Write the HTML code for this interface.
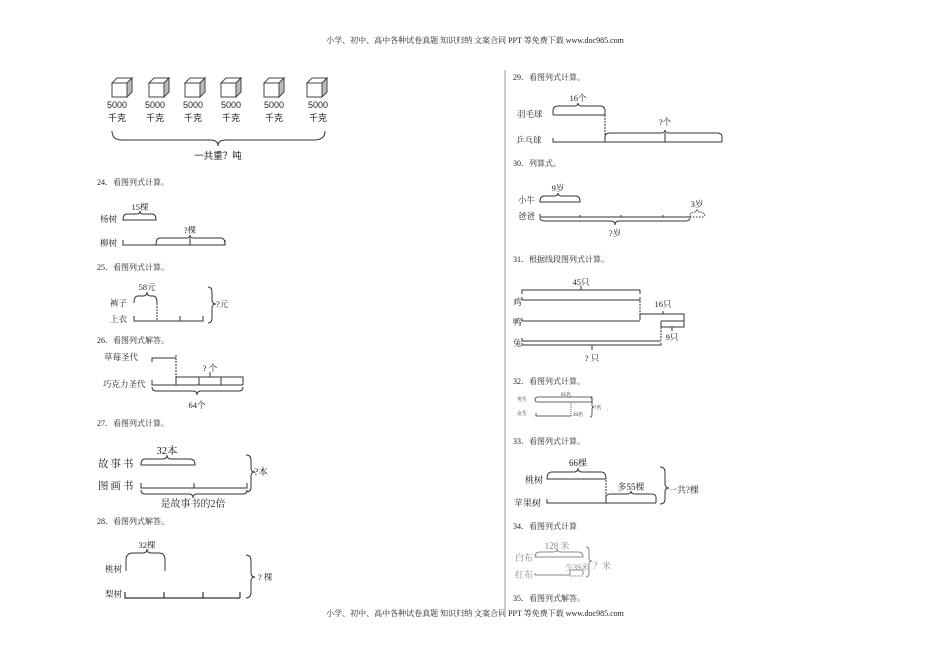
<!DOCTYPE html>
<html><head><meta charset="utf-8"><style>
html,body{margin:0;padding:0;background:#fff;}
svg{display:block;}
text{font-family:"Liberation Serif","Noto Serif CJK SC","Noto Sans CJK SC",serif;fill:#222;}
.s{font-family:"Liberation Sans","Noto Sans CJK SC",sans-serif;}
</style></head><body>
<svg width="950" height="672" viewBox="0 0 950 672" xmlns="http://www.w3.org/2000/svg" fill="none" stroke="#333" stroke-width="1">
<text x="475" y="43" font-size="8" text-anchor="middle" stroke="none" fill="#444">小学、初中、高中各种试卷真题  知识归纳  文案合同  PPT 等免费下载    www.doc985.com</text>
<text x="475" y="616" font-size="8" text-anchor="middle" stroke="none" fill="#444">小学、初中、高中各种试卷真题  知识归纳  文案合同  PPT 等免费下载    www.doc985.com</text>
<line x1="505" y1="70" x2="505" y2="612" stroke="#999"/>

<!-- cubes -->
<g stroke="#444">
<g transform="translate(112,78)"><rect x="0" y="5" width="15" height="14" fill="#fff"/><path d="M0 5 L5 0 H20 L15 5 Z" fill="#fff"/><path d="M15 5 L20 0 V14 L15 19 Z" fill="#bbb"/></g>
<g transform="translate(149,78)"><rect x="0" y="5" width="15" height="14" fill="#fff"/><path d="M0 5 L5 0 H20 L15 5 Z" fill="#fff"/><path d="M15 5 L20 0 V14 L15 19 Z" fill="#bbb"/></g>
<g transform="translate(185,78)"><rect x="0" y="5" width="15" height="14" fill="#fff"/><path d="M0 5 L5 0 H20 L15 5 Z" fill="#fff"/><path d="M15 5 L20 0 V14 L15 19 Z" fill="#bbb"/></g>
<g transform="translate(221,78)"><rect x="0" y="5" width="15" height="14" fill="#fff"/><path d="M0 5 L5 0 H20 L15 5 Z" fill="#fff"/><path d="M15 5 L20 0 V14 L15 19 Z" fill="#bbb"/></g>
<g transform="translate(264,78)"><rect x="0" y="5" width="15" height="14" fill="#fff"/><path d="M0 5 L5 0 H20 L15 5 Z" fill="#fff"/><path d="M15 5 L20 0 V14 L15 19 Z" fill="#bbb"/></g>
<g transform="translate(307,78)"><rect x="0" y="5" width="15" height="14" fill="#fff"/><path d="M0 5 L5 0 H20 L15 5 Z" fill="#fff"/><path d="M15 5 L20 0 V14 L15 19 Z" fill="#bbb"/></g>
</g>
<g stroke="none" font-size="9" class="s" text-anchor="middle">
<text class="s" x="117" y="108">5000</text><text class="s" x="117" y="121">千克</text>
<text class="s" x="155" y="108">5000</text><text class="s" x="155" y="121">千克</text>
<text class="s" x="193" y="108">5000</text><text class="s" x="193" y="121">千克</text>
<text class="s" x="231" y="108">5000</text><text class="s" x="231" y="121">千克</text>
<text class="s" x="274" y="108">5000</text><text class="s" x="274" y="121">千克</text>
<text class="s" x="318" y="108">5000</text><text class="s" x="318" y="121">千克</text>
<text class="s" x="218" y="159" font-size="9.5">一共重？吨</text>
</g>
<path d="M112 131 Q112 140 122 140 L210 140 Q218 140 218 146 Q218 140 226 140 L314 140 Q325 140 325 131"/>

<g stroke="none" font-size="8">
<text x="97" y="185">24．看图列式计算。</text>
<text x="97" y="270">25．看图列式计算。</text>
<text x="97" y="343">26．看图列式解答。</text>
<text x="97" y="426">27．看图列式计算。</text>
<text x="97" y="524">28．看图列式解答。</text>
<text x="513" y="80">29．看图列式计算。</text>
<text x="513" y="166">30．列算式。</text>
<text x="513" y="262">31．根据线段图列式计算。</text>
<text x="513" y="384">32．看图列式计算。</text>
<text x="513" y="444">33．看图列式计算。</text>
<text x="513" y="529">34．看图列式计算</text>
<text x="513" y="601">35．看图列式解答。</text>
</g>

<!-- 24 -->
<g stroke="none" font-size="8.5">
<text x="100" y="222">杨树</text><text x="100" y="246">柳树</text>
<text x="140" y="210" text-anchor="middle">15棵</text><text x="190" y="233" text-anchor="middle">?棵</text>
</g>
<path d="M123 220 Q123 214 127 214 L137 214 Q140 214 140 211 Q140 214 143 214 L152 214 Q156 214 156 220 Z"/>
<path d="M123 240 V245 H225 V240"/>
<path d="M156 245 Q156 238 160 238 L187 238 Q190 238 190 235 Q190 238 193 238 L221 238 Q225 238 225 245 M190 238 V245"/>

<!-- 25 -->
<g stroke="none" font-size="8.5">
<text x="110" y="306">裤子</text><text x="110" y="322">上衣</text>
<text x="147" y="290" text-anchor="middle">58元</text><text x="216" y="307">?元</text>
</g>
<path d="M134 303 Q134 296 138 296 L143 296 Q147 296 147 292 Q147 296 151 296 L153 296 Q157 296 157 303"/>
<path d="M134 316 V321 H203 V316 M180 316 V321"/>
<line x1="157" y1="303" x2="157" y2="321" stroke-dasharray="2,1"/>
<path d="M208 287 Q212 287 212 292 V300 Q212 304 216 304 Q212 304 212 308 V318 Q212 323 208 323"/>

<!-- 26 -->
<g stroke="none" font-size="8.5">
<text x="104" y="360">草莓圣代</text><text x="103" y="387">巧克力圣代</text>
<text x="210" y="371" text-anchor="middle">? 个</text><text x="197" y="408" text-anchor="middle">64个</text>
</g>
<path d="M152 362 V358 H176"/>
<line x1="176" y1="355" x2="176" y2="385" stroke-dasharray="2,1"/>
<path d="M152 380 V385 H243 M176 385 V377 H243 V385 M199 377 V385 M221 377 V385 M210 377 V372"/>
<path d="M152 387 Q152 391 156 391 L193 391 Q197 391 197 395 Q197 391 201 391 L239 391 Q243 391 243 387"/>

<!-- 27 -->
<g stroke="none" font-size="10.5">
<text x="98" y="467" letter-spacing="2">故事书</text><text x="98" y="489" letter-spacing="2">图画书</text>
<text x="167" y="454" text-anchor="middle">32本</text><text x="193" y="507" text-anchor="middle" font-size="10">是故事书的2倍</text>
<text x="254" y="475" font-size="9.5">?本</text>
</g>
<path d="M141 465 Q141 459 145 459 L163 459 Q167 459 167 455 Q167 459 171 459 L190 459 Q195 459 195 465 Z"/>
<path d="M141 483 V488 H247 V483 M194 483 V488"/>
<path d="M141 490 Q141 494 145 494 L189 494 Q193 494 193 498 Q193 494 197 494 L243 494 Q247 494 247 490"/>
<path d="M246 455 Q251 455 251 460 V468 Q251 472 255 472 Q251 472 251 476 V487 Q251 492 246 492"/>

<!-- 28 -->
<g stroke="none" font-size="8.5">
<text x="105" y="572">桃树</text><text x="105" y="597">梨树</text>
<text x="147" y="548" text-anchor="middle">32棵</text><text x="258" y="580">? 棵</text>
</g>
<path d="M126 571 V560 Q126 553 133 553 L143 553 Q147 553 147 549 Q147 553 151 553 L159 553 Q165 553 165 560 V571"/>
<path d="M125 592 V598 H240 M164 592 V598 M203 592 V598 M240 592 V598" stroke-width="1.2"/>
<path d="M246 555 Q251 555 251 561 V573 Q251 577 255 577 Q251 577 251 581 V592 Q251 598 246 598"/>

<!-- 29 -->
<g stroke="none" font-size="8.5">
<text x="517" y="117">羽毛球</text><text x="516" y="143">乒乓球</text>
<text x="578" y="101" text-anchor="middle">16个</text><text x="665" y="125" text-anchor="middle">?个</text>
</g>
<path d="M553 115 V111 Q553 106 558 106 L574 106 Q578 106 578 103 Q578 106 582 106 L600 106 Q605 106 605 111 V115 H553"/>
<line x1="605" y1="115" x2="605" y2="142" stroke-dasharray="2,1"/>
<path d="M553 138 V142 H722"/>
<path d="M605 142 V137 Q605 133 610 133 L661 133 Q665 133 665 130 Q665 133 669 133 L717 133 Q722 133 722 137 V142 M665 133 V142"/>

<!-- 30 -->
<g stroke="none" font-size="8.5">
<text x="518" y="203">小牛</text><text x="518" y="219">爸爸</text>
<text x="558" y="191" text-anchor="middle">9岁</text><text x="697" y="207" text-anchor="middle">3岁</text>
<text x="615" y="236" text-anchor="middle">?岁</text>
</g>
<path d="M540 202 Q540 196 544 196 L554 196 Q558 196 558 193 Q558 196 562 196 L576 196 Q580 196 580 202 Z"/>
<path d="M540 214 V217 H690 M580 215 V217 M621 215 V217 M663 215 V217"/>
<path d="M690 217 Q690 212 694 212 Q697 212 697 209 Q697 212 700 212 Q705 212 705 217" stroke-dasharray="1.5,1"/>
<line x1="690" y1="217" x2="705" y2="217" stroke-dasharray="1.5,1.5"/>
<path d="M540 218 Q540 221 545 221 L611 221 Q615 221 615 225 Q615 221 619 221 L685 221 Q690 221 690 218"/>

<!-- 31 -->
<g stroke="none" font-size="8.5">
<text x="513" y="305">鸡</text><text x="513" y="325">鸭</text><text x="513" y="346">兔</text>
<text x="581" y="285" text-anchor="middle">45只</text><text x="663" y="307" text-anchor="middle">16只</text>
<text x="672" y="340" text-anchor="middle">9只</text><text x="592" y="361" text-anchor="middle">? 只</text>
</g>
<path d="M522 294 V290 H640 V294 M581 290 V286"/>
<path d="M522 297 V300 H640 V297"/>
<line x1="640" y1="301" x2="640" y2="320" stroke-dasharray="2,1"/>
<path d="M522 318 V321 H640"/>
<path d="M640 320 V314 H684 V321 H661 M663 314 V311"/>
<path d="M661 321 V327 H684 V321 M672 327 V331"/>
<line x1="661" y1="321" x2="661" y2="340" stroke-dasharray="2,1"/>
<path d="M522 338 V341 H661"/>
<path d="M522 343 V345 H661 V343 M592 345 V350"/>

<!-- 32 -->
<g stroke="none" font-size="5" >
<text x="517" y="401">男生</text><text x="517" y="415">女生</text>
<text x="566" y="396" text-anchor="middle">65名</text><text x="573" y="416">20名</text>
<text x="594" y="409">?名</text><text x="607" y="410">.</text>
</g>
<path d="M535 400 Q535 397 538 397 H592 V402 H538 Q535 402 535 400" stroke-width="0.8"/>
<line x1="571" y1="403" x2="571" y2="416" stroke-dasharray="1,1" stroke-width="0.8"/>
<path d="M536 413 V416 H571" stroke-width="0.8"/>
<path d="M590 397 Q592 397 592 400 V405 Q592 407 594 407 Q592 407 592 409 V414 Q592 417 590 417" stroke-width="0.8"/>

<!-- 33 -->
<g stroke="none" font-size="9">
<text x="525" y="483">桃树</text><text x="514" y="506">苹果树</text>
<text x="578" y="466" text-anchor="middle">66棵</text><text x="631" y="490" text-anchor="middle">多55棵</text>
<text x="668" y="493">一共?棵</text>
</g>
<path d="M547 479 Q547 472 552 472 L574 472 Q578 472 578 468 Q578 472 582 472 L601 472 Q606 472 606 479 Z"/>
<line x1="606" y1="480" x2="606" y2="503" stroke-dasharray="2,1"/>
<path d="M547 499 V503 H656"/>
<path d="M606 503 V497 Q606 494 611 494 L627 494 Q631 494 631 491 Q631 494 635 494 L651 494 Q656 494 656 497 V503"/>
<path d="M660 467 Q665 467 665 472 V484 Q665 488 669 488 Q665 488 665 492 V499 Q665 504 660 504"/>

<!-- 34 -->
<g stroke="none" font-size="9" fill="#888" style="fill:#888">
<text x="515" y="561" style="fill:#888">白布</text><text x="515" y="578" style="fill:#888">红布</text>
<text x="557" y="549" text-anchor="middle" style="fill:#888">128 米</text><text x="565" y="570" font-size="8" style="fill:#888">少39米</text>
<text x="593" y="569" style="fill:#888">？米</text>
</g>
<g stroke="#888">
<path d="M535 557 Q535 552 540 552 L553 552 Q557 552 557 549 Q557 552 561 552 L578 552 Q583 552 583 557 Z"/>
<path d="M535 573 V575 H570 M570 575 V570 H583 V575"/>
<line x1="570" y1="576" x2="583" y2="576" stroke-dasharray="1.5,1"/>
<path d="M586 547 Q589 547 589 551 V558 Q589 561 592 561 Q589 561 589 564 V573 Q589 577 586 577"/>
</g>
</svg>
</body></html>
